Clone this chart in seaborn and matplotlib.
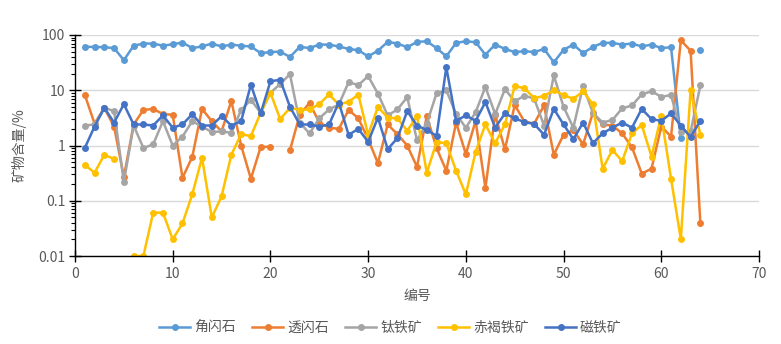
import numpy as np
import pandas as pd
import matplotlib
matplotlib.use("Agg")
import matplotlib.pyplot as plt
from matplotlib.lines import Line2D
from matplotlib.ticker import LogLocator, FixedLocator, FuncFormatter, NullFormatter
import seaborn as sns

nan = np.nan
ids = list(range(1, 65))

jiaoshanshi = [61, 61, 60, 58, 35, 64, 70, 70, 64, 68,
               73, 58, 62, 70, 62, 67, 64, 62, 47, 49,
               50, 40, 61, 58, 67, 67, 62, 56, 53, 41,
               52, 75, 70, 60, 75, 77, 58, 41, 72, 77,
               74, 44, 67, 56, 49, 51, 49, 56, 32, 54,
               67, 47, 61, 72, 72, 67, 70, 62, 67, 58,
               60, 1.35, nan, 53]
toushanshi = [8.3, 2.5, 4.8, 2.2, 0.27, 2.4, 4.4, 4.6, 3.7, 3.6,
              0.26, 0.62, 4.6, 2.75, 1.8, 6.4, 1.0, 0.25, 0.94, 0.95,
              nan, 0.82, 3.6, 5.9, 2.6, 2.1, 2.0, 4.4, 3.1, 1.3,
              0.48, 2.4, 1.6, 1.0, 0.41, 3.4, 0.9, 0.35, 2.6, 0.7,
              2.8, 0.17, 3.6, 0.85, 5.4, 2.7, 2.5, 5.3, 0.68, 1.56,
              1.9, 1.05, 3.9, 2.4, 2.3, 1.65, 0.93, 0.31, 0.38, 2.2,
              1.45, 80, 52, 0.039]
taitiekuang = [2.3, 2.4, 4.8, 4.2, 0.22, 2.3, 0.9, 1.05, 2.75, 1.0,
               1.45, 2.75, 2.2, 1.75, 1.8, 1.7, 4.4, 6.7, 3.9, 9,
               13, 19.5, 2.6, 1.65, 3.1, 4.5, 5.5, 14, 12.4, 18,
               8.7, 3.5, 4.5, 7.5, 1.24, 2.5, 8.8, 10, 3.7, 2.1,
               4.0, 11.5, 3.7, 10.5, 6.3, 8, 7, 2.3, 18.5, 5,
               2.1, 12, 3.9, 2.6, 2.9, 4.7, 5.3, 8.4, 9.6, 7.6,
               8.2, 1.75, 1.8, 12.2]
chihetiekuang = [0.45, 0.32, 0.68, 0.57, nan, 0.01, 0.01, 0.061, 0.061, 0.02,
                 0.039, 0.13, 0.6, 0.05, 0.12, 0.68, 1.6, 1.48, 3.9, 9,
                 3.0, 4.8, 4.4, 4.5, 5.6, 8.4, 5.5, 6.2, 8.3, 1.56,
                 5, 3.2, 3.1, 1.85, 3.4, 0.32, 1.15, 1.1, 0.35, 0.13,
                 0.77, 2.4, 1.1, 2.4, 12, 10.8, 7.2, 7.9, 10, 8.2,
                 7, 9.5, 5.6, 0.38, 0.83, 0.52, 1.66, 2.35, 0.63, 3.45,
                 0.25, 0.02, 10, 1.55]
citiekuang = [0.9, 2.2, 4.8, 2.6, 5.6, 2.4, 2.4, 2.3, 3.5, 2.1,
              2.4, 3.7, 2.3, 2.3, 3.4, 2.3, 2.75, 12.6, 3.8, 14.5,
              15.5, 5.0, 2.4, 2.4, 2.2, 2.4, 6, 1.56, 2.0, 1.16,
              3.2, 0.86, 1.36, 4.2, 2.3, 1.9, 1.5, 26, 2.8, 3.5,
              2.8, 6.1, 2.1, 3.8, 3.1, 2.65, 2.45, 1.56, 4.6, 2.4,
              1.3, 2.6, 1.1, 1.66, 2.1, 2.6, 2.1, 4.6, 3.0, 2.8,
              3.8, 2.3, 1.42, 2.8]

names = ["角闪石", "透闪石", "钛铁矿", "赤褐铁矿", "磁铁矿"]
series = [jiaoshanshi, toushanshi, taitiekuang, chihetiekuang, citiekuang]
colors = ["#5B9BD5", "#ED7D31", "#A5A5A5", "#FFC000", "#4472C4"]
y_ticks = [0.01, 0.1, 1, 10, 100]
y_tick_labels = ["0.01", "0.1", "1", "10", "100"]
x_ticks = [0, 10, 20, 30, 40, 50, 60, 70]

frames = []
for name, vals in zip(names, series):
    v = np.array(vals, dtype=float)
    seg = np.cumsum(np.isnan(v))
    df = pd.DataFrame({"编号": ids, "含量": v, "矿物": name, "seg": seg})
    frames.append(df.dropna())
data = pd.concat(frames, ignore_index=True)
data["unit"] = data["矿物"] + "_" + data["seg"].astype(str)

plt.rcParams["font.family"] = ["Noto Sans CJK SC", "DejaVu Sans"]
fig = plt.figure(figsize=(7.81, 3.44), dpi=100)
ax = fig.add_axes([75 / 781, (344 - 256) / 344, (759 - 75) / 781, (256 - 35) / 344])

sns.lineplot(data=data, x="编号", y="含量", hue="矿物", units="unit", estimator=None,
             palette=dict(zip(names, colors)), hue_order=names, marker="o",
             markersize=5, markeredgewidth=0, linewidth=1.8, legend=False, ax=ax,
             sort=True)

ax.set_yscale("log")
ax.set_ylim(0.01, 100)
ax.set_xlim(0, 70)
ax.yaxis.set_major_locator(FixedLocator(y_ticks))
ax.yaxis.set_major_formatter(FuncFormatter(lambda v, p: y_tick_labels[y_ticks.index(min(y_ticks, key=lambda t: abs(np.log10(t) - np.log10(v))))]))
ax.yaxis.set_minor_locator(LogLocator(base=10, subs=np.arange(2, 10)))
ax.yaxis.set_minor_formatter(NullFormatter())
ax.xaxis.set_major_locator(FixedLocator(x_ticks))
ax.grid(axis="y", which="major", color="#D9D9D9", linewidth=1)
ax.grid(axis="x", visible=False)
ax.set_axisbelow(True)
for s in ["top", "right"]:
    ax.spines[s].set_visible(False)
for s in ["left", "bottom"]:
    ax.spines[s].set_color("black")
    ax.spines[s].set_linewidth(1)
ax.tick_params(axis="x", which="major", direction="inout", length=8, width=1,
               labelsize=10, labelcolor="#595959", color="black", pad=4)
ax.tick_params(axis="y", which="major", direction="inout", length=8, width=1,
               labelsize=10, labelcolor="#595959", color="black", pad=3)
ax.tick_params(axis="y", which="minor", direction="out", length=3, width=0.8, color="black")
ax.set_xlabel("编号", fontsize=10, color="#595959", labelpad=6)
ax.set_ylabel("矿物含量/%", fontsize=10, color="#595959", labelpad=8)

handles = [Line2D([0], [0], color=c, linewidth=1.8, marker="o", markersize=5, markeredgewidth=0)
           for c in colors]
fig.legend(handles, names, loc="center", bbox_to_anchor=(0.5, 1 - 328 / 344), ncol=5,
           frameon=False, fontsize=10, labelcolor="#595959", handlelength=2.2,
           handletextpad=0.3, columnspacing=1.2)

fig.savefig("out.png", dpi=100)
